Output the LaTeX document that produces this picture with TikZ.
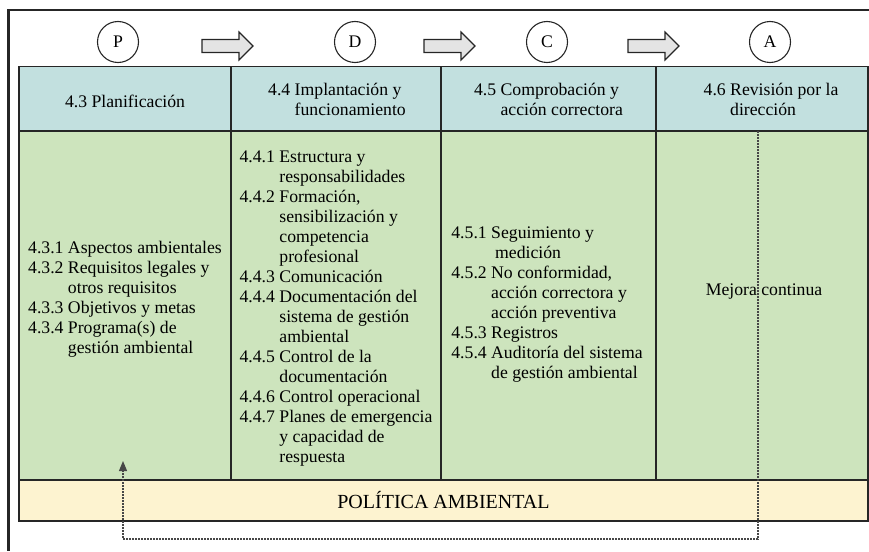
\documentclass[tikz,border=0pt]{standalone}
\usepackage{fontspec}
\setmainfont{LiberationSerif}[Extension=.ttf,UprightFont=*-Regular,BoldFont=*-Bold,ItalicFont=*-Italic]
\usetikzlibrary{arrows.meta}

\definecolor{headfill}{RGB}{194,224,223}
\definecolor{bodyfill}{RGB}{205,228,189}
\definecolor{polfill}{RGB}{253,243,208}
\definecolor{rulecol}{RGB}{38,38,38}
\definecolor{flowfill}{RGB}{228,228,228}

\newcommand{\txtsize}{\fontsize{17.7pt}{20pt}\selectfont}

\begin{document}
\begin{tikzpicture}[x=1pt,y=-1pt,
    frame/.style={draw=rulecol,line width=2.5pt},
    phase/.style={circle,draw=rulecol,line width=1.1pt,minimum size=41pt,inner sep=0pt,font=\txtsize},
    flow/.style={draw=rulecol,fill=flowfill,line width=1.1pt,line join=miter},
    headcell/.style={rectangle,draw=rulecol,fill=headfill,line width=1.1pt,minimum height=64.3pt,inner sep=0pt},
    bodycell/.style={rectangle,draw=rulecol,fill=bodyfill,line width=1.1pt,minimum height=349pt,inner sep=0pt},
    polcell/.style={rectangle,draw=rulecol,fill=polfill,line width=1.1pt,minimum width=849pt,minimum height=41pt,inner sep=0pt,font=\fontsize{20pt}{24pt}\selectfont},
    item/.style={inner sep=0pt,font=\txtsize},
    feedback/.style={draw=rulecol!85,line width=1.1pt,dash pattern=on 2pt off 1pt,-{Triangle[length=10pt,width=8pt]}}]
    \useasboundingbox (0,0) rectangle (869,551);
    \def\ymid{131}

    % frame
    \draw[frame] (869,10) -- (8.5,10) -- (8.5,551);

    % PDCA
    \node[phase] (P) at (118,42) {P};
    \node[phase] (D) at (355,42) {D};
    \node[phase] (C) at (547,42) {C};
    \node[phase] (A) at (770,42) {A};
    \foreach \xa in {202,424,628}
        \draw[flow,shift={(\xa,46)}] (0,-6.5) -- (37,-6.5) -- (37,-14) -- (51,0)
            -- (37,14) -- (37,6.5) -- (0,6.5) -- cycle;

    % table
    \foreach \xl/\xr/\n in {19/231/1,231/441/2,441/656/3,656/868/4}{
        \pgfmathsetmacro{\w}{\xr-\xl}
        \pgfmathsetmacro{\xc}{(\xl+\xr)/2}
        \node[headcell,minimum width=\w pt] (h\n) at (\xc,98.85) {};
        \node[bodycell,minimum width=\w pt] (b\n) at (\xc,305.5) {};
    }
    \node[polcell] (pol) at (443.5,500.5) {POLÍTICA AMBIENTAL};

    % headers
    \node[item] (c1) at (125,101) {4.3 Planificación};
    \node[item] (c2) at (337,101) {\begin{tabular}{@{}l@{\ }l@{}}
        4.4 & Implantación y\\ & funcionamiento\end{tabular}};
    \node[item] (c3) at (548.5,101) {\begin{tabular}{@{}l@{\ }l@{}}
        4.5 & Comprobación y\\ & acción correctora\end{tabular}};
    \node[item] (c4) at (771,101) {\begin{tabular}{@{}l@{\ }l@{}}
        4.6 & Revisión por la\\ & dirección\end{tabular}};

    % contents
    \node[item] (t1) at (125,299.5) {\begin{tabular}{@{}l@{\ }l@{}}
        4.3.1 & Aspectos ambientales\\
        4.3.2 & Requisitos legales y\\ & otros requisitos\\
        4.3.3 & Objetivos y metas\\
        4.3.4 & Programa(s) de\\ & gestión ambiental\end{tabular}};
    \node[item] (t2) at (336,308) {\begin{tabular}{@{}l@{\ }l@{}}
        4.4.1 & Estructura y\\ & responsabilidades\\
        4.4.2 & Formación,\\ & sensibilización y\\ & competencia\\ & profesional\\
        4.4.3 & Comunicación\\
        4.4.4 & Documentación del\\ & sistema de gestión\\ & ambiental\\
        4.4.5 & Control de la\\ & documentación\\
        4.4.6 & Control operacional\\
        4.4.7 & Planes de emergencia\\ & y capacidad de\\ & respuesta\end{tabular}};
    \node[item] (t3) at (547,304.5) {\begin{tabular}{@{}l@{\ }l@{}}
        4.5.1 & Seguimiento y\\ & \hspace{4pt}medición\\
        4.5.2 & No conformidad,\\ & acción correctora y\\ & acción preventiva\\
        4.5.3 & Registros\\
        4.5.4 & Auditoría del sistema\\ & de gestión ambiental\end{tabular}};
    \node[item] (t4) at (764,292) {Mejora continua};

    % feedback loop
    \coordinate (fbtop) at (758,\ymid);
    \coordinate (fbend) at (123,461);
    \draw[feedback] (fbtop) -- (758,539) -| (fbend);
\end{tikzpicture}
\end{document}
